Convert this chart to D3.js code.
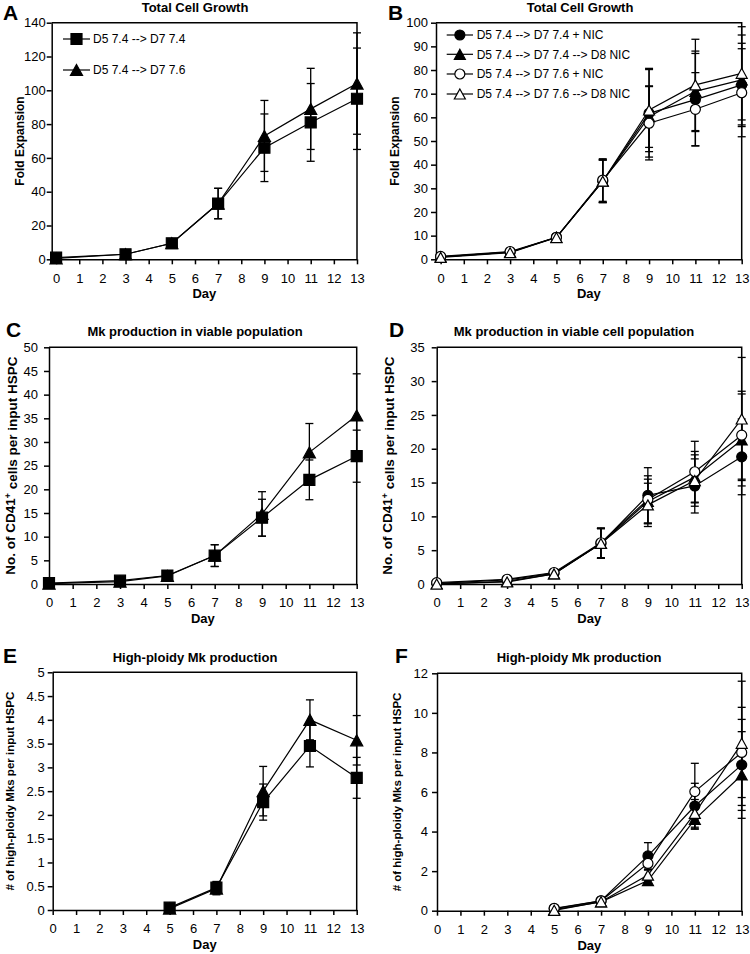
<!DOCTYPE html>
<html>
<head>
<meta charset="utf-8">
<script src="https://cdn.jsdelivr.net/npm/d3@7"></script>
<style>
  html, body { margin: 0; padding: 0; background: #fff; }
  svg { display: block; }
  text { font-family: "Liberation Sans", Arial, Helvetica, sans-serif; fill: #000; }
</style>
</head>
<body>
<script>
// ---------------- DATA ----------------
const dayTicks = [0,1,2,3,4,5,6,7,8,9,10,11,12,13];
const days = [0, 3, 5, 7, 9, 11, 13];
const daysHP = [5, 7, 9, 11, 13];

const seriesNames2 = ["D5 7.4 --> D7 7.4", "D5 7.4 --> D7 7.6"];
const seriesNames4 = ["D5 7.4 --> D7 7.4 + NIC", "D5 7.4 --> D7 7.4 --> D8 NIC",
                      "D5 7.4 --> D7 7.6 + NIC", "D5 7.4 --> D7 7.6 --> D8 NIC"];

// Panel A : Total Cell Growth (fold expansion)
const aSquare    = [1, 3, 9.5, 33, 66, 81, 95];
const aSquareErr = [0, 0, 0, 9, 20, 23, 30];
const aTri       = [0.5, 3, 9.5, 33, 73, 89, 104];
const aTriErr    = [0, 0, 0, 9, 21, 24, 30];

// Panel B : Total Cell Growth with NIC
const bFC    = [1, 3, 9.3, 33, 61.7, 67.5, 73.7];
const bFCErr = [0, 0, 0, 9, 18.5, 19.5, 17.6];
const bFT    = [1, 3, 9.3, 33, 60.3, 71, 75.8];
const bFTErr = [0, 0, 0, 9, 13, 17, 19];
const bOC    = [1.2, 3.3, 9.3, 33.5, 57.5, 63.4, 70.4];
const bOCErr = [0, 0, 0, 9, 15.5, 15.5, 18.6];
const bOT    = [0.8, 2.8, 9.2, 33, 63.1, 73.7, 78.6];
const bOTErr = [0, 0, 0, 9, 17.6, 19.3, 19.7];

// Panel C : Mk production in viable population
const cSquare    = [0.2, 0.7, 1.8, 6, 14, 22, 27];
const cSquareErr = [0, 0, 0, 2.3, 3.9, 4.2, 5.5];
const cTri       = [0.1, 0.5, 1.7, 6, 14.8, 27.8, 35.6];
const cTriErr    = [0, 0, 0, 2.3, 4.7, 6.1, 8.8];

// Panel D : Mk production in viable cell population
const dFC    = [0.1, 0.6, 1.6, 6, 13.1, 14.5, 18.8];
const dFCErr = [0, 0, 0, 2.2, 4.1, 4, 5.6];
const dFT    = [0, 0.4, 1.5, 6, 12.2, 15.8, 21.3];
const dFTErr = [0, 0, 0, 2.2, 3.3, 3.8, 6.8];
const dOC    = [0.2, 0.7, 1.7, 6.1, 12.5, 16.6, 22];
const dOCErr = [0, 0, 0, 2.2, 3.5, 4.5, 6.5];
const dOT    = [0, 0.3, 1.5, 6, 11.7, 15.3, 24.4];
const dOTErr = [0, 0, 0, 2.2, 3.2, 3.8, 9.1];

// Panel E : High-ploidy Mk production
const eSquare    = [0.05, 0.47, 2.27, 3.45, 2.78];
const eSquareErr = [0, 0.13, 0.38, 0.44, 0.43];
const eTri       = [0.03, 0.45, 2.5, 4.0, 3.57];
const eTriErr    = [0, 0.13, 0.52, 0.42, 0.52];

// Panel F : High-ploidy Mk production with NIC
const fFC    = [0.1, 0.5, 2.77, 5.29, 7.37];
const fFCErr = [0, 0.05, 0.67, 1.15, 2.3];
const fFT    = [0.05, 0.45, 1.52, 4.62, 6.86];
const fFTErr = [0, 0.05, 0.2, 0.5, 2.19];
const fOC    = [0.12, 0.5, 2.39, 6.02, 8.0];
const fOCErr = [0, 0.05, 0.3, 1.43, 2.28];
const fOT    = [0.02, 0.45, 1.8, 4.92, 8.46];
const fOTErr = [0, 0.05, 0.25, 0.7, 3.14];

// y tick labels
const yTicksA = [0, 20, 40, 60, 80, 100, 120, 140];
const yTicksB = [0, 10, 20, 30, 40, 50, 60, 70, 80, 90, 100];
const yTicksC = [0, 5, 10, 15, 20, 25, 30, 35, 40, 45, 50];
const yTicksD = [0, 5, 10, 15, 20, 25, 30, 35];
const yTicksE = [0, 0.5, 1, 1.5, 2, 2.5, 3, 3.5, 4, 4.5, 5];
const yTicksF = [0, 2, 4, 6, 8, 10, 12];

// ---------------- DRAWING ----------------
const svg = d3.select("body").append("svg").attr("width", 750).attr("height", 954);

function markerPath(shape, s) {
  if (shape === "square") {
    const h = s / 2;
    return `M${-h},${-h}H${h}V${h}H${-h}Z`;
  }
  if (shape === "triangle") {
    const w = s * 1.1 / 2, hh = s / 2;
    return `M0,${-hh}L${w},${hh}L${-w},${hh}Z`;
  }
  const r = s / 2;
  return `M${r},0A${r},${r} 0 1,1 ${-r},0A${r},${r} 0 1,1 ${r},0Z`;
}

function drawPanel(p) {
  const x = d3.scaleLinear().domain(p.xDomain).range([p.left, p.right]);
  const y = d3.scaleLinear().domain([0, p.yMax]).range([p.bottom, p.top]);
  const g = svg.append("g");

  g.append("path")
    .attr("d", `M${p.left},${p.top}H${p.right}V${p.bottom}`)
    .attr("fill", "none").attr("stroke", "#000").attr("stroke-width", 1.5);

  const ya = g.append("g").attr("transform", `translate(${p.left},0)`)
    .call(d3.axisLeft(y).tickValues(p.yTicks).tickSize(5).tickSizeOuter(0)
      .tickPadding(p.yPad).tickFormat(d => String(d)));
  const xa = g.append("g").attr("transform", `translate(0,${p.bottom})`)
    .call(d3.axisBottom(x).tickValues(dayTicks).tickSize(5).tickSizeOuter(0)
      .tickPadding(9).tickFormat(d => String(d)));
  [ya, xa].forEach(a => {
    a.selectAll("path,line").attr("stroke", "#000").attr("stroke-width", 1.5);
    a.selectAll("text").attr("font-size", 13).attr("font-family", '"Liberation Sans", Arial, sans-serif');
  });

  g.append("text").attr("x", p.titleX).attr("y", p.titleY).attr("text-anchor", "middle")
    .attr("font-size", 13).attr("font-weight", "bold").text(p.title);
  g.append("text").attr("x", p.letterX).attr("y", p.letterY)
    .attr("font-size", 21).attr("font-weight", "bold").text(p.letter);
  g.append("text").attr("x", (p.left + p.right) / 2).attr("y", p.bottom + 39)
    .attr("text-anchor", "middle").attr("font-size", 13).attr("font-weight", "bold").text("Day");
  const yl = g.append("text")
    .attr("transform", `translate(${p.ylabelX},${(p.top + p.bottom) / 2}) rotate(-90)`)
    .attr("text-anchor", "middle").attr("dy", "0.35em")
    .attr("font-size", p.ylabelSize).attr("font-weight", "bold");
  if (p.ylabelSup) {
    yl.append("tspan").text(p.ylabel[0]);
    yl.append("tspan").attr("dy", "-0.45em").attr("font-size", p.ylabelSize * 0.65).text(p.ylabelSup);
    yl.append("tspan").attr("dy", "0.45em").text(p.ylabel[1]);
  } else {
    yl.text(p.ylabel);
  }

  const line = d3.line().x(d => x(d.day)).y(d => y(d.v));
  const cap = 4;

  p.series.forEach(s => {
    const pts = p.days.map((d, i) => ({ day: d, v: s.vals[i], e: s.errs[i] }));
    const eb = g.append("g").attr("stroke", "#000").attr("stroke-width", 1.3);
    pts.filter(d => d.e > 0).forEach(d => {
      const cx = x(d.day), yt = y(d.v + d.e), yb = y(d.v - d.e);
      eb.append("line").attr("x1", cx).attr("x2", cx).attr("y1", yt).attr("y2", yb);
      eb.append("line").attr("x1", cx - cap).attr("x2", cx + cap).attr("y1", yt).attr("y2", yt);
      eb.append("line").attr("x1", cx - cap).attr("x2", cx + cap).attr("y1", yb).attr("y2", yb);
    });
    g.append("path").datum(pts).attr("d", line)
      .attr("fill", "none").attr("stroke", "#000").attr("stroke-width", 1.2);
  });
  p.series.forEach(s => {
    const pts = p.days.map((d, i) => ({ day: d, v: s.vals[i] }));
    g.append("g").selectAll("path").data(pts).join("path")
      .attr("transform", d => `translate(${x(d.day)},${y(d.v)})`)
      .attr("d", markerPath(s.shape, s.size))
      .attr("fill", s.fill).attr("stroke", "#000").attr("stroke-width", 1.2);
  });

  if (p.legend) {
    const L = p.legend;
    p.series.forEach((s, i) => {
      const ly = L.ys[i];
      g.append("line").attr("x1", L.x0).attr("x2", L.x1).attr("y1", ly).attr("y2", ly)
        .attr("stroke", "#000").attr("stroke-width", 1.2);
      g.append("path").attr("transform", `translate(${(L.x0 + L.x1) / 2},${ly})`)
        .attr("d", markerPath(s.shape, s.size))
        .attr("fill", s.fill).attr("stroke", "#000").attr("stroke-width", 1.2);
      g.append("text").attr("x", L.tx).attr("y", ly).attr("dy", "0.35em")
        .attr("font-size", 12).text(L.names[i]);
    });
  }
}

const sqS = 11, triS = 11, cS = 10, tS = 10;

drawPanel({
  left: 51.7, right: 357, top: 22.7, bottom: 259.3, xDomain: [-0.19, 13], yMax: 140,
  yTicks: yTicksA, yPad: 1, days: days,
  title: "Total Cell Growth", titleX: 195, titleY: 11.5, letter: "A", letterX: 3, letterY: 20,
  ylabel: "Fold Expansion", ylabelX: 20, ylabelSize: 12,
  series: [
    { vals: aSquare, errs: aSquareErr, shape: "square", fill: "#000", size: sqS },
    { vals: aTri, errs: aTriErr, shape: "triangle", fill: "#000", size: triS }
  ],
  legend: { x0: 63, x1: 90, tx: 93, ys: [39, 70], names: seriesNames2 }
});

drawPanel({
  left: 436, right: 741.7, top: 22.7, bottom: 259.3, xDomain: [-0.2, 13], yMax: 100,
  yTicks: yTicksB, yPad: 3, days: days,
  title: "Total Cell Growth", titleX: 580, titleY: 11.5, letter: "B", letterX: 388, letterY: 20,
  ylabel: "Fold Expansion", ylabelX: 395, ylabelSize: 12,
  series: [
    { vals: bFC, errs: bFCErr, shape: "circle", fill: "#000", size: cS },
    { vals: bFT, errs: bFTErr, shape: "triangle", fill: "#000", size: tS },
    { vals: bOC, errs: bOCErr, shape: "circle", fill: "#fff", size: cS },
    { vals: bOT, errs: bOTErr, shape: "triangle", fill: "#fff", size: tS }
  ],
  legend: { x0: 446.7, x1: 473, tx: 476.7, ys: [35, 54.3, 74, 94], names: seriesNames4 }
});

drawPanel({
  left: 49, right: 356.7, top: 347.3, bottom: 584, xDomain: [0, 13], yMax: 50,
  yTicks: yTicksC, yPad: 6, days: days,
  title: "Mk production in viable population", titleX: 195, titleY: 336.4, letter: "C", letterX: 6, letterY: 337,
  ylabel: ["No. of CD41", " cells per input HSPC"], ylabelSup: "+", ylabelX: 10, ylabelSize: 13.5,
  series: [
    { vals: cSquare, errs: cSquareErr, shape: "square", fill: "#000", size: sqS },
    { vals: cTri, errs: cTriErr, shape: "triangle", fill: "#000", size: triS }
  ]
});

drawPanel({
  left: 436.7, right: 741.7, top: 347.3, bottom: 584, xDomain: [0, 13], yMax: 35,
  yTicks: yTicksD, yPad: 7, days: days,
  title: "Mk production in viable cell population", titleX: 574, titleY: 336.4, letter: "D", letterX: 389, letterY: 337,
  ylabel: ["No. of CD41", " cells per input HSPC"], ylabelSup: "+", ylabelX: 387, ylabelSize: 13.5,
  series: [
    { vals: dFC, errs: dFCErr, shape: "circle", fill: "#000", size: cS },
    { vals: dFT, errs: dFTErr, shape: "triangle", fill: "#000", size: tS },
    { vals: dOC, errs: dOCErr, shape: "circle", fill: "#fff", size: cS },
    { vals: dOT, errs: dOTErr, shape: "triangle", fill: "#fff", size: tS }
  ]
});

drawPanel({
  left: 52.7, right: 356.7, top: 672.3, bottom: 910, xDomain: [0, 13], yMax: 5,
  yTicks: yTicksE, yPad: 3, days: daysHP,
  title: "High-ploidy Mk production", titleX: 195, titleY: 662, letter: "E", letterX: 3, letterY: 663,
  ylabel: "# of high-ploidy Mks per input HSPC", ylabelX: 9.5, ylabelSize: 11.5,
  series: [
    { vals: eSquare, errs: eSquareErr, shape: "square", fill: "#000", size: sqS },
    { vals: eTri, errs: eTriErr, shape: "triangle", fill: "#000", size: triS }
  ]
});

drawPanel({
  left: 437, right: 741.7, top: 673.3, bottom: 910.7, xDomain: [0, 13], yMax: 12,
  yTicks: yTicksF, yPad: 4, days: daysHP,
  title: "High-ploidy Mk production", titleX: 579, titleY: 662, letter: "F", letterX: 395, letterY: 663,
  ylabel: "# of high-ploidy Mks per input HSPC", ylabelX: 397, ylabelSize: 11.5,
  series: [
    { vals: fFC, errs: fFCErr, shape: "circle", fill: "#000", size: cS },
    { vals: fFT, errs: fFTErr, shape: "triangle", fill: "#000", size: tS },
    { vals: fOC, errs: fOCErr, shape: "circle", fill: "#fff", size: cS },
    { vals: fOT, errs: fOTErr, shape: "triangle", fill: "#fff", size: tS }
  ]
});
</script>
</body>
</html>
